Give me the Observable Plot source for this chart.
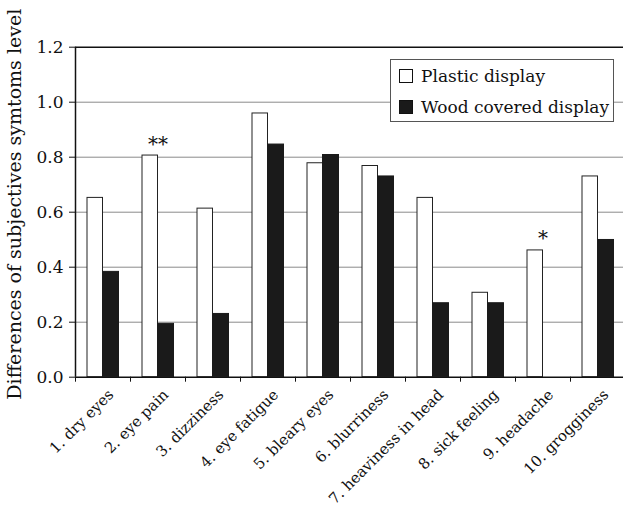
<!DOCTYPE html>
<html>
<head>
<meta charset="utf-8">
<script src="https://cdn.jsdelivr.net/npm/d3@7"></script>
<script src="https://cdn.jsdelivr.net/npm/@observablehq/plot@0.6"></script>
<style>
  html, body { margin: 0; padding: 0; background: white; }
  #wrap { position: relative; width: 623px; height: 507px; overflow: hidden; font-family: "DejaVu Serif", "Liberation Serif", serif; }
  #legend { position: absolute; left: 390px; top: 59px; width: 222px; height: 61px; border: 1px solid #555; background: white; color: #111; font-size: 17px; }
  .row { position: absolute; left: 8px; height: 26px; line-height: 26px; white-space: nowrap; }
  .sw { display: inline-block; width: 12px; height: 12px; border: 1.5px solid #111; vertical-align: -1px; margin-right: 8px; }
</style>
</head>
<body>
<div id="wrap"></div>
<script>
const symptoms = ["1. dry eyes", "2. eye pain", "3. dizziness", "4. eye fatigue", "5. bleary eyes",
  "6. blurriness", "7. heaviness in head", "8. sick feeling", "9. headache", "10. grogginess"];
const plastic = [0.652, 0.806, 0.613, 0.959, 0.778, 0.768, 0.652, 0.307, 0.461, 0.730];
const wood = [0.383, 0.194, 0.230, 0.846, 0.808, 0.730, 0.269, 0.269, 0.0, 0.499];
const significance = ["", "**", "", "", "", "", "", "", "*", ""];
const yTicks = [0, 0.2, 0.4, 0.6, 0.8, 1.0, 1.2];
const seriesNames = ["Plastic display", "Wood covered display"];
const seriesColors = ["white", "#1a1a1a"];
const yTitle = "Differences of subjectives symtoms level";

const table = symptoms.map((s, i) => ({symptom: s, plastic: plastic[i], wood: wood[i], sig: significance[i]}));

const chart = Plot.plot({
  width: 623,
  height: 507,
  marginTop: 46.7,
  marginBottom: 130.3,
  marginLeft: 75,
  marginRight: 0,
  x: {domain: symptoms, range: [75, 625], padding: 0},
  y: {domain: [0, 1.2]},
  style: {fontFamily: "'DejaVu Serif', 'Liberation Serif', serif", fontSize: "17px", color: "#111", background: "white"},
  marks: [
    Plot.ruleY(yTicks.slice(1, -1), {stroke: "#8a8a8a", strokeWidth: 1}),
    Plot.barY(table, {x: "symptom", y: "plastic", fill: seriesColors[0], stroke: "#222", strokeWidth: 1, insetLeft: 12, insetRight: 27.5}),
    Plot.barY(table, {x: "symptom", y: "wood", fill: seriesColors[1], stroke: "#1a1a1a", strokeWidth: 1, insetLeft: 27.5, insetRight: 11.5}),
    Plot.text(table, {x: "symptom", y: "plastic", text: "sig", lineAnchor: "bottom", dy: -5, fontSize: 20}),
    Plot.ruleY([0, 1.2], {stroke: "#111", strokeWidth: 1.5}),
    Plot.ruleX(symptoms.slice(0, 1), {x: d => d, dx: -27.5, y1: 0, y2: 1.2, stroke: "#111", strokeWidth: 1.5}),
    Plot.axisY({ticks: yTicks, tickFormat: d3.format(".1f"), tickSize: 6, tickPadding: 6, label: null}),
    Plot.text([yTitle], {frameAnchor: "left", rotate: -90, lineAnchor: "top", textAnchor: "middle", dx: -68, dy: -8, fontSize: 19}),
    Plot.axisX({tickSize: 5, text: null, dx: -27.5, label: null}),
    Plot.axisX({tickSize: 0, tickRotate: -45, tickPadding: 15, dx: 8, label: null, fontSize: 15})
  ]
});
const wrap = document.getElementById("wrap");
wrap.appendChild(chart);

const legend = document.createElement("div");
legend.id = "legend";
seriesNames.forEach((name, i) => {
  const row = document.createElement("div");
  row.className = "row";
  row.style.top = (i === 0 ? 3 : 34) + "px";
  const sw = document.createElement("span");
  sw.className = "sw";
  sw.style.background = seriesColors[i];
  row.appendChild(sw);
  row.appendChild(document.createTextNode(name));
  legend.appendChild(row);
});
wrap.appendChild(legend);
</script>
</body>
</html>
